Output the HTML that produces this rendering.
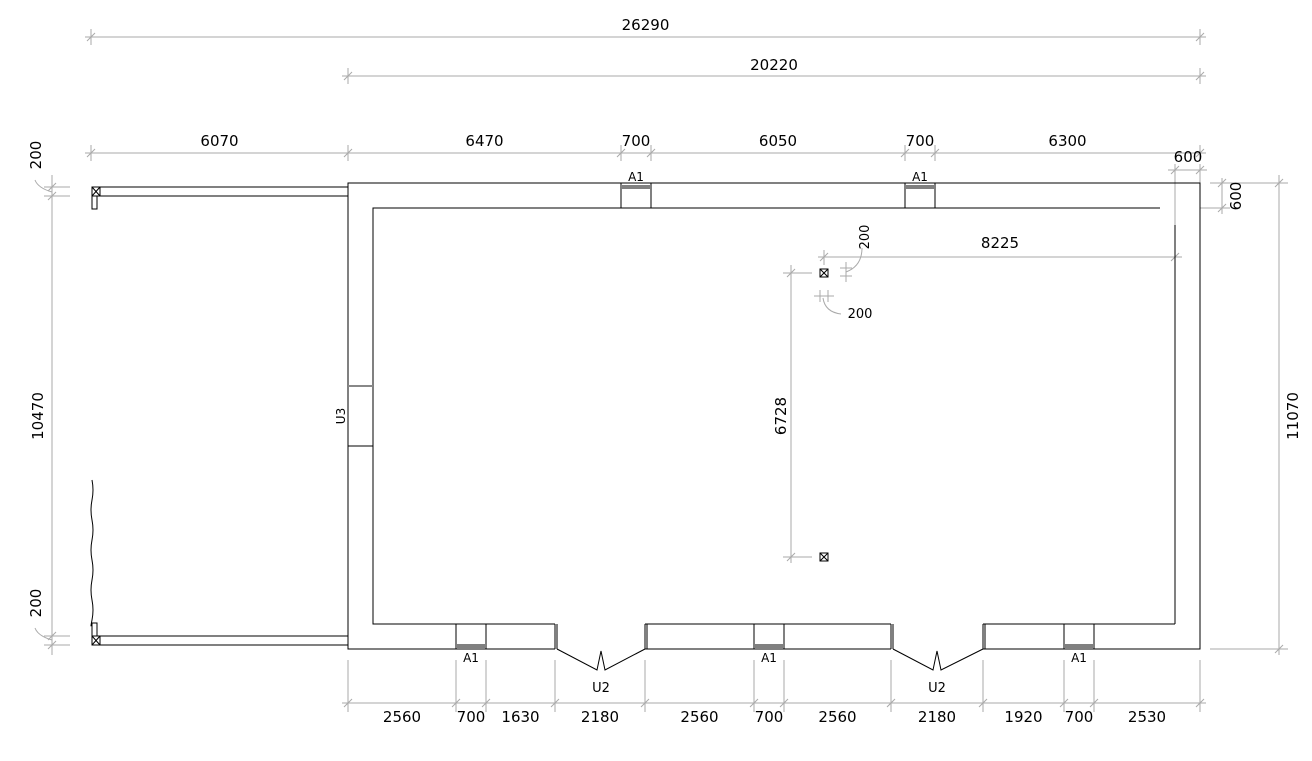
<!DOCTYPE html>
<html><head><meta charset="utf-8"><style>
html,body{margin:0;padding:0;background:#fff;width:1312px;height:761px;overflow:hidden}
svg text{font-family:"DejaVu Sans","Liberation Sans",sans-serif;fill:#000}
</style></head><body>
<svg id="s" width="1312" height="761" xmlns="http://www.w3.org/2000/svg">
<g id="dim" stroke="#aaa" stroke-width="1" fill="none"></g>
<g id="wall" stroke="#000" stroke-width="1" fill="none">
<!-- outer wall -->
<polyline points="555,649 348,649 348,183 1200,183 1200,649 983,649"/>
<line x1="645" y1="649" x2="891" y2="649"/>
<polyline points="555,624 373,624 373,208 1160,208"/>
<line x1="1175" y1="225" x2="1175" y2="624"/>
<line x1="1175" y1="624" x2="983" y2="624"/>
<line x1="645" y1="624" x2="891" y2="624"/>
<line x1="555" y1="624" x2="555" y2="649"/><line x1="557" y1="624" x2="557" y2="649"/>
<line x1="645" y1="624" x2="645" y2="649"/><line x1="647" y1="624" x2="647" y2="649"/>
<line x1="891" y1="624" x2="891" y2="649"/><line x1="893" y1="624" x2="893" y2="649"/>
<line x1="983" y1="624" x2="983" y2="649"/><line x1="985" y1="624" x2="985" y2="649"/>
<!-- doors U2 -->
<polyline points="557,649 597,670 601,651 605,670 645,649"/>
<polyline points="893,649 933,670 937,651 941,670 983,649"/>
<!-- U3 -->
<line x1="348" y1="386" x2="373" y2="386" stroke="#888" stroke-width="2"/>
<line x1="348" y1="446" x2="373" y2="446"/>
<!-- windows -->
<rect x="621" y="183" width="30" height="25" fill="#fff"/>
<line x1="622" y1="186" x2="650" y2="186"/><line x1="622" y1="188" x2="650" y2="188"/>
<rect x="905" y="183" width="30" height="25" fill="#fff"/>
<line x1="906" y1="186" x2="934" y2="186"/><line x1="906" y1="188" x2="934" y2="188"/>
<rect x="456" y="624" width="30" height="25" fill="#fff"/>
<line x1="457" y1="645" x2="485" y2="645"/><line x1="457" y1="647" x2="485" y2="647"/>
<rect x="754" y="624" width="30" height="25" fill="#fff"/>
<line x1="755" y1="645" x2="783" y2="645"/><line x1="755" y1="647" x2="783" y2="647"/>
<rect x="1064" y="624" width="30" height="25" fill="#fff"/>
<line x1="1065" y1="645" x2="1093" y2="645"/><line x1="1065" y1="647" x2="1093" y2="647"/>
<!-- porch beams -->
<rect x="92" y="187" width="256" height="9"/>
<rect x="92" y="636" width="256" height="9"/>
<rect x="92" y="187" width="8" height="9"/><line x1="92" y1="187" x2="100" y2="196"/><line x1="100" y1="187" x2="92" y2="196"/>
<rect x="92" y="196" width="5" height="13"/>
<rect x="92" y="636" width="8" height="9"/><line x1="92" y1="636" x2="100" y2="645"/><line x1="100" y1="636" x2="92" y2="645"/>
<rect x="92" y="623" width="5" height="13"/>
<path d="M92,480 q2,10 0,20 q-2,10 0,20 q2,10 0,20 q-2,10 0,20 q2,10 0,20 q-2,10 0,20 q2,10 0,20 q-2,10 0,3"/>
<!-- columns -->
<rect x="820" y="269" width="8" height="8"/><line x1="820" y1="269" x2="828" y2="277"/><line x1="828" y1="269" x2="820" y2="277"/>
<rect x="820" y="553" width="8" height="8"/><line x1="820" y1="553" x2="828" y2="561"/><line x1="828" y1="553" x2="820" y2="561"/>
</g>
<g id="txt" font-size="15" text-anchor="middle"></g>
</svg>
<script>
const NS="http://www.w3.org/2000/svg",d=document.getElementById('dim'),t=document.getElementById('txt');
function L(x1,y1,x2,y2,c){const e=document.createElementNS(NS,'line');e.setAttribute('x1',x1);e.setAttribute('y1',y1);e.setAttribute('x2',x2);e.setAttribute('y2',y2);if(c)e.setAttribute('stroke',c);d.appendChild(e);}
function T(x,y,s,rot,fs){const e=document.createElementNS(NS,'text');e.setAttribute('x',x);e.setAttribute('y',y);if(fs)e.setAttribute('font-size',fs);if(rot)e.setAttribute('transform',`rotate(-90 ${x} ${y})`);e.textContent=s;t.appendChild(e);}
function tickH(x,y){L(x-4,y+4,x+4,y-4);L(x,y-6,x,y+6);}
function tickV(x,y){L(x-4,y+4,x+4,y-4);L(x-6,y,x+6,y);}
function hdim(xs,y,y0,labels,ty){L(xs[0]-6,y,xs[xs.length-1]+6,y);xs.forEach(x=>{L(x,y-8,x,y0);tickH(x,y);});for(let i=0;i<labels.length;i++)if(labels[i])T((xs[i]+xs[i+1])/2,ty,labels[i]);}
hdim([91,1200],37,45,['26290'],30);
hdim([348,1200],76,84,['20220'],70);
hdim([91,348,621,651,905,935,1200],153,161,['6070','6470','700','6050','700','6300'],146);
// bottom
const bx=[348,456,486,555,645,754,784,891,983,1064,1094,1200];
L(342,703,1206,703);bx.forEach(x=>{L(x,660,x,712);tickH(x,703);});
const bl=['2560','700','1630','2180','2560','700','2560','2180','1920','700','2530'];
for(let i=0;i<bl.length;i++)T((bx[i]+bx[i+1])/2,722,bl[i]);
// right
L(1210,183,1288,183);L(1210,649,1288,649);L(1279,175,1279,655);tickV(1279,183);tickV(1279,649);
T(1298,416,'11070',true);
L(1200,208,1230,208);L(1222,178,1222,214);tickV(1222,183);tickV(1222,208);T(1241,196,'600',true);
L(1168,170,1207,170);L(1175,165,1175,260);L(1200,165,1200,183);tickH(1175,170);tickH(1200,170);T(1188,162,'600');
// left
L(44,187,70,187);L(44,196,70,196);L(44,636,70,636);L(44,645,70,645);
L(52,175,52,655);tickV(52,187);tickV(52,196);tickV(52,636);tickV(52,645);
T(43,416,'10470',true);T(41,155,'200',true);T(41,603,'200',true);
d.insertAdjacentHTML('beforeend','<path d="M35,180 q3,8 17,12" /><path d="M35,628 q3,8 17,12" />');
// interior dims
L(791,265,791,563);L(783,273,812,273);L(783,557,812,557);tickV(791,273);tickV(791,557);T(786,416,'6728',true);
L(818,257,1182,257);L(824,250,824,265);tickH(824,257);tickH(1175,257);T(1000,248,'8225');
L(840,268,852,268);L(840,276,852,276);L(846,262,846,282);
L(814,296,834,296);L(820,290,820,302);L(828,290,828,302);
d.insertAdjacentHTML('beforeend','<path d="M862,248 q0,18 -16,24" /><path d="M823,298 q2,14 18,16" />');
T(869,237,'200',true,13);T(860,318,'200',false,13);
// labels
T(636,181,'A1',false,12);T(920,181,'A1',false,12);
T(471,662,'A1',false,12);T(769,662,'A1',false,12);T(1079,662,'A1',false,12);
T(601,692,'U2',false,13);T(937,692,'U2',false,13);T(345,416,'U3',true,12);
</script>
</body></html>
